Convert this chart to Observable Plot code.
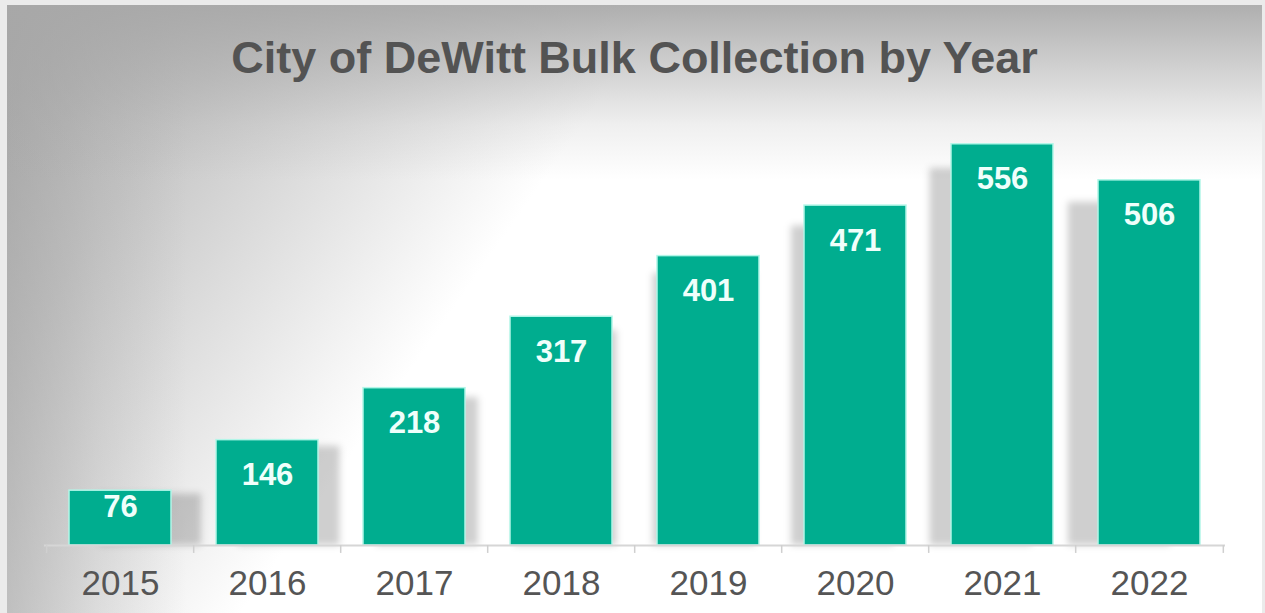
<!DOCTYPE html>
<html>
<head>
<meta charset="utf-8">
<script src="https://cdn.jsdelivr.net/npm/d3@7"></script>
<script src="https://cdn.jsdelivr.net/npm/@observablehq/plot@0.6"></script>
<style>
  html, body { margin: 0; padding: 0; background: #e4e4e4; }
  #wrap { position: relative; width: 1265px; height: 613px; overflow: hidden; background: #ebebeb; }
  #bg { position: absolute; left: 7px; top: 5px; width: 1255px; height: 608px;
        background:
          linear-gradient(to bottom, rgba(168,168,168,0.92) 0px, rgba(168,168,168,0.55) 60px, rgba(168,168,168,0.18) 120px, rgba(168,168,168,0) 175px),
          linear-gradient(to right, rgba(160,160,160,0.5) 0px, rgba(160,160,160,0.2) 90px, rgba(160,160,160,0) 180px),
          linear-gradient(125deg, #ababab 0px, #c6c6c6 200px, #e4e4e4 380px, #ffffff 540px, #ffffff 100%); }
  #title { position: absolute; left: 0; top: 35px; width: 1269px; text-align: center;
           font-family: "Liberation Sans", Arial, sans-serif; font-weight: bold; font-size: 45px;
           line-height: 45px; color: #535353; }
  #chart { position: absolute; left: 0; top: 0; }
</style>
</head>
<body>
<div id="wrap">
  <div id="bg"></div>
  <div id="chart"></div>
  <div id="title">City of DeWitt Bulk Collection by Year</div>
</div>
<script>
const years = ["2015", "2016", "2017", "2018", "2019", "2020", "2021", "2022"];
const collections = [76, 146, 218, 317, 401, 471, 556, 506];

const data = years.map((year, i) => ({year, value: collections[i], i}));

const W = 1265, H = 613, ML = 44, MR = 40, MT = 112, MB = 68;
const step = (W - ML - MR) / years.length;

const shadowMarks = data.map((d, i) =>
  Plot.barY([d], {
    x: "year", y1: 0, y2: v => v.value * 0.94,
    dx: (3.5 - i) * 8.6,
    fill: "#000", fillOpacity: 0.19,
    ariaDescription: "shadow"
  })
);

const plot = Plot.plot({
  width: W, height: H,
  marginLeft: ML, marginRight: MR, marginTop: MT, marginBottom: MB,
  style: {background: "transparent", fontFamily: "Liberation Sans, Arial, sans-serif", overflow: "visible"},
  x: {domain: years, paddingInner: 0.309, paddingOuter: 0.155, axis: null},
  y: {domain: [0, 600], axis: null},
  marks: [
    ...shadowMarks,
    Plot.barY(data, {x: "year", y: "value", fill: "#00ad8f", stroke: "#b2f6e8", strokeWidth: 1.5}),
    Plot.ruleY([0], {stroke: "#d6d6d6", strokeWidth: 2}),
    Plot.ruleX(years, {x: d => d, y1: 0, y2: -11, dx: -step / 2, stroke: "#cfcfcf", strokeWidth: 1.5}),
    Plot.ruleX([years[years.length - 1]], {x: d => d, y1: 0, y2: -11, dx: step / 2, stroke: "#cfcfcf", strokeWidth: 1.5}),
    Plot.text(data.filter(d => d.i > 0), {
      x: "year", y: "value", text: d => String(d.value), dy: 35,
      fill: "#effffb", fontSize: 31, fontWeight: "bold"
    }),
    Plot.text(data.filter(d => d.i === 0), {
      x: "year", y: "value", text: d => String(d.value), dy: 16,
      fill: "#effffb", fontSize: 31, fontWeight: "bold"
    }),
    Plot.axisX({tickSize: 0, tickPadding: 25, fontSize: 35, fill: "#555555", label: null})
  ]
});

const ns = "http://www.w3.org/2000/svg";
const defs = document.createElementNS(ns, "defs");
const filter = document.createElementNS(ns, "filter");
filter.setAttribute("id", "shadowBlur");
filter.setAttribute("x", "-30%"); filter.setAttribute("y", "-20%");
filter.setAttribute("width", "160%"); filter.setAttribute("height", "140%");
const blur = document.createElementNS(ns, "feGaussianBlur");
blur.setAttribute("stdDeviation", "3.5");
filter.appendChild(blur);
defs.appendChild(filter);
plot.insertBefore(defs, plot.firstChild);
plot.querySelectorAll('g[aria-description="shadow"]').forEach(g => g.setAttribute("filter", "url(#shadowBlur)"));

document.getElementById("chart").appendChild(plot);
</script>
</body>
</html>
